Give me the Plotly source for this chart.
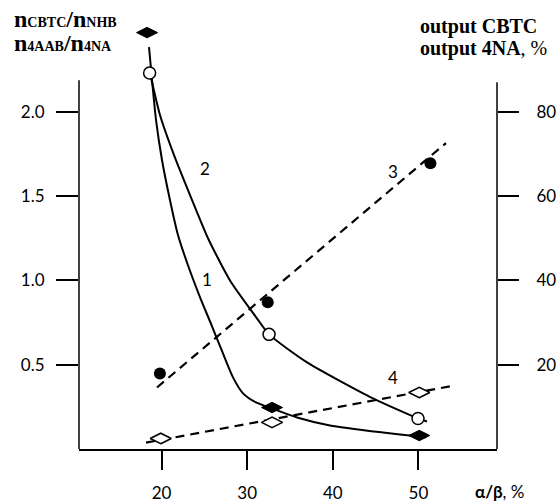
import plotly.graph_objects as go

# ---- data ----
# series markers (x = alpha/beta, %)
s1_x = [18.3, 32.9, 50.1]      # filled diamonds, ratio (left axis)
s1_y = [2.47, 0.246, 0.080]
s2_x = [18.6, 32.55, 49.95]    # open circles, ratio (left axis)
s2_y = [2.23, 0.68, 0.181]
s3_x = [19.8, 32.4, 51.4]      # filled circles, output % (right axis)
s3_y = [17.9, 34.8, 67.8]
s4_x = [19.9, 32.9, 50.1]      # open diamonds, output % (right axis)
s4_y = [2.5, 6.3, 13.4]

# curves
c1_x = [18.53, 18.88, 19.35, 20.05, 20.98, 21.92, 23.08, 24.49, 25.89, 27.17, 28.34, 29.51, 31.03, 32.90, 35.82, 39.67, 45.86, 50.07, 50.9]
c1_y = [2.384, 2.188, 1.951, 1.713, 1.476, 1.268, 1.090, 0.900, 0.728, 0.567, 0.425, 0.330, 0.276, 0.240, 0.187, 0.140, 0.098, 0.074, 0.070]
c2_x = [18.64, 19.81, 21.45, 23.32, 25.42, 27.99, 31.14, 32.55, 36.99, 44.70, 49.95, 51.0]
c2_y = [2.230, 1.981, 1.743, 1.506, 1.250, 1.000, 0.775, 0.680, 0.514, 0.300, 0.181, 0.163]
l3_x = [19.46, 53.22]          # dashed trend line 3 (right axis)
l3_y = [14.6, 72.6]
l4_x = [18.18, 54.28]          # dashed trend line 4 (right axis)
l4_y = [1.5, 15.1]

x_ticks = [20, 30, 40, 50]
y_ticks = [0.5, 1.0, 1.5, 2.0]
y_ticktext = ["0.5", "1.0", "1.5", "2.0"]
y2_ticks = [20, 40, 60, 80]
curve_labels = ["1", "2", "3", "4"]
label_x = [25.3, 25.07, 47.07, 47.07]
label_y = [1.007, 1.666, 1.648, 0.425]

fig = go.Figure()

fig.add_trace(go.Scatter(x=c1_x, y=c1_y, mode="lines",
                         line=dict(color="black", width=2, shape="spline", smoothing=0.6)))
fig.add_trace(go.Scatter(x=c2_x, y=c2_y, mode="lines",
                         line=dict(color="black", width=2, shape="spline", smoothing=0.6)))
fig.add_trace(go.Scatter(x=l3_x, y=l3_y, mode="lines", yaxis="y2",
                         line=dict(color="black", width=2.2, dash="9px,6px")))
fig.add_trace(go.Scatter(x=l4_x, y=l4_y, mode="lines", yaxis="y2",
                         line=dict(color="black", width=2.2, dash="9px,6px")))

fig.add_trace(go.Scatter(x=s1_x, y=s1_y, mode="markers", cliponaxis=False,
                         marker=dict(symbol="diamond-wide", size=15, color="black",
                                     line=dict(color="black", width=1))))
fig.add_trace(go.Scatter(x=s2_x, y=s2_y, mode="markers", cliponaxis=False,
                         marker=dict(symbol="circle", size=12, color="white",
                                     line=dict(color="black", width=1.5))))
fig.add_trace(go.Scatter(x=s3_x, y=s3_y, mode="markers", yaxis="y2", cliponaxis=False,
                         marker=dict(symbol="circle", size=12, color="black")))
fig.add_trace(go.Scatter(x=s4_x, y=s4_y, mode="markers", yaxis="y2", cliponaxis=False,
                         marker=dict(symbol="diamond-wide", size=15, color="white",
                                     line=dict(color="black", width=1.5))))

tickfont = dict(family="Lato", size=17, color="black")

fig.update_layout(
    width=558, height=502,
    margin=dict(l=79, r=61, t=22, b=53, autoexpand=False),
    plot_bgcolor="white", paper_bgcolor="white",
    showlegend=False,
    xaxis=dict(range=[10.35, 59.18], tickvals=x_ticks, ticks="outside", ticklen=19,
               tickwidth=1.5, tickcolor="black", showline=True, linecolor="black",
               linewidth=1.5, showgrid=False, zeroline=False, tickfont=tickfont,
               ticklabelstandoff=9, automargin=False),
    yaxis=dict(range=[0, 2.533], tickvals=y_ticks, ticktext=y_ticktext, ticks="outside",
               ticklen=22, tickwidth=1.5, tickcolor="black", showline=False,
               showgrid=False, zeroline=False, tickfont=tickfont, ticklabelstandoff=8,
               automargin=False),
    yaxis2=dict(range=[0, 101.32], tickvals=y2_ticks, overlaying="y", side="right",
                ticks="outside", ticklen=21, tickwidth=1.5, tickcolor="black",
                showline=False, showgrid=False, zeroline=False, tickfont=tickfont,
                ticklabelstandoff=14, automargin=False),
)

fig.add_shape(type="line", xref="paper", yref="y", x0=0, x1=0, y0=0, y1=2.188,
              line=dict(color="black", width=1.5))
fig.add_shape(type="line", xref="paper", yref="y", x0=1, x1=1, y0=0, y1=2.176,
              line=dict(color="black", width=1.5))

for t, lx, ly in zip(curve_labels, label_x, label_y):
    fig.add_annotation(x=lx, y=ly, xref="x", yref="y", text=t, showarrow=False,
                       font=dict(family="Lato", size=17, color="black"))

serif = "Liberation Serif"
sub = '<span style="font-size:14px">'
fig.add_annotation(xref="paper", yref="paper", x=-0.160, y=1.007, xanchor="left",
                   yanchor="middle", showarrow=False,
                   text=f"<b>n{sub}CBTC</span>/n{sub}NHB</span></b>",
                   font=dict(family=serif, size=24, color="black"))
fig.add_annotation(xref="paper", yref="paper", x=-0.160, y=0.951, xanchor="left",
                   yanchor="middle", showarrow=False,
                   text=f"<b>n{sub}4AAB</span>/n{sub}4NA</span></b>",
                   font=dict(family=serif, size=24, color="black"))
fig.add_annotation(xref="paper", yref="paper", x=0.811, y=0.9906, xanchor="left",
                   yanchor="middle", showarrow=False, text="<b>output CBTC</b>",
                   font=dict(family=serif, size=20, color="black"))
fig.add_annotation(xref="paper", yref="paper", x=0.811, y=0.939, xanchor="left",
                   yanchor="middle", showarrow=False, text="<b>output 4NA</b>, %",
                   font=dict(family=serif, size=20, color="black"))
fig.add_annotation(xref="paper", yref="paper", x=0.943, y=-0.100, xanchor="left",
                   yanchor="middle", showarrow=False, text="<b>α/β</b>, %",
                   font=dict(family="Lato", size=17, color="black"))

fig.write_html("out.html", config={"displayModeBar": False},
               post_script="document.body.style.margin='0px';document.body.style.overflow='hidden';")
